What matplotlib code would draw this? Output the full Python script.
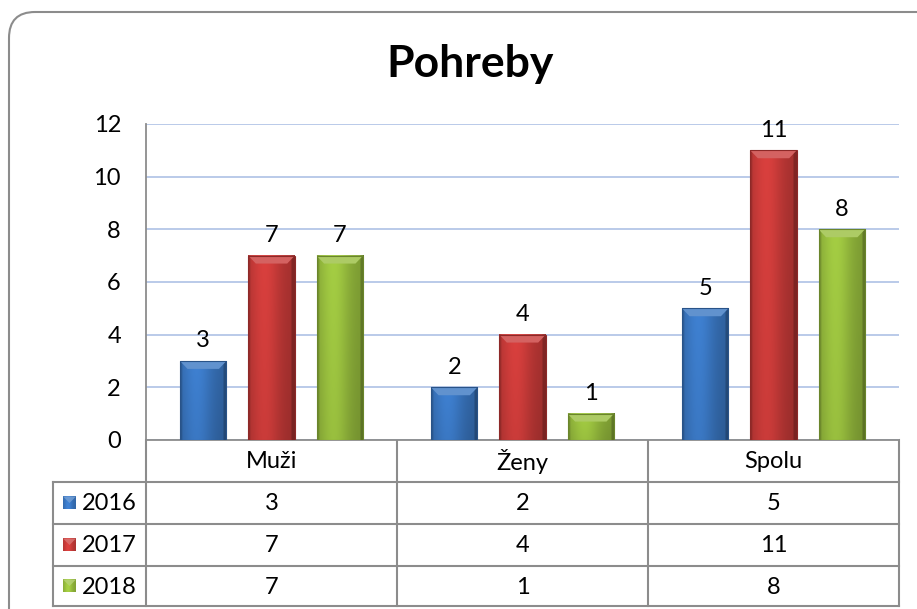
import numpy as np
import matplotlib
matplotlib.use("Agg")
import matplotlib.pyplot as plt
from matplotlib.patches import FancyBboxPatch, Polygon, Rectangle
from matplotlib.colors import to_rgb

# data
categories = ["Muži", "Ženy", "Spolu"]
years = ["2016", "2017", "2018"]
v2016 = [3, 2, 5]
v2017 = [7, 4, 11]
v2018 = [7, 1, 8]
series = [v2016, v2017, v2018]
colors = ["#3a77c2", "#c93b39", "#98be3e"]

y_ticks = [0, 2, 4, 6, 8, 10, 12]

plt.rcParams["font.family"] = ["Lato", "DejaVu Sans"]
FS = 17

W, H = 917, 609
fig = plt.figure(figsize=(W / 100, H / 100), dpi=100)
fig.patch.set_facecolor("white")

# plot area in pixel coords
L, R, T, B = 146, 899, 124, 440
ax = fig.add_axes([L / W, 1 - B / H, (R - L) / W, (B - T) / H])
ax.set_facecolor("white")

# overlay for the table and frame (pixel coords)
ov = fig.add_axes([0, 0, 1, 1], zorder=-1)
ov.set_xlim(0, W)
ov.set_ylim(H, 0)
ov.axis("off")


def shade(c, f):
    r, g, b = to_rgb(c)
    if f >= 1:
        return tuple(min(1, v + (1 - v) * (f - 1)) for v in (r, g, b))
    return tuple(v * f for v in (r, g, b))


def bevel_bar(a, x0, w, h, c):
    # gradient body
    nx, ny = 40, 60
    xs = np.linspace(0, 1, nx)
    prof = 0.80 + 0.26 * np.exp(-((xs - 0.35) / 0.35) ** 2)
    prof[:2] *= 0.85
    prof[-3:] *= 0.78
    ys = np.linspace(1, 0, ny)
    vprof = 0.95 + 0.07 * ys
    base = np.array(to_rgb(c))
    img = np.clip(base[None, None, :] * (prof[None, :, None] * vprof[:, None, None]), 0, 1)
    a.imshow(img, extent=(x0, x0 + w, 0, h), aspect="auto", zorder=3,
             interpolation="bilinear")
    # top chamfer
    dx = 0.03
    dy = 0.3
    top = Polygon([(x0, h), (x0 + w, h), (x0 + w - dx, h - dy), (x0 + dx, h - dy)],
                  closed=True, facecolor=shade(c, 1.2), edgecolor="none", zorder=4)
    a.add_patch(top)
    a.add_patch(Rectangle((x0, 0), w, h, fill=False, edgecolor=shade(c, 0.7),
                          linewidth=0.8, zorder=5))


x = np.arange(len(categories))
bw = 0.185
offsets = [-0.272, 0.0, 0.272]
for vals, off, c in zip(series, offsets, colors):
    for xi, v in zip(x, vals):
        bevel_bar(ax, xi + off - bw / 2, bw, v, c)
        ax.annotate(str(v), (xi + off, v), xytext=(0, 7), textcoords="offset points",
                    ha="center", va="bottom", fontsize=FS, color="black")

ax.set_xlim(-0.5, len(categories) - 0.5)
ax.set_ylim(0, 12)
ax.set_yticks(y_ticks)
ax.set_yticklabels([str(t) for t in y_ticks], fontsize=FS)
ax.tick_params(axis="y", length=0, pad=18)
ax.set_xticks([])
ax.yaxis.grid(True, color="#b4c6e7", linewidth=1.3)
ax.set_axisbelow(True)
for s in ["top", "right"]:
    ax.spines[s].set_visible(False)
for s in ["left", "bottom"]:
    ax.spines[s].set_color("#8c8c8c")
    ax.spines[s].set_linewidth(1.3)

# title
fig.text(470 / W, 1 - 64 / H, "Pohreby", ha="center", va="center",
         fontsize=32, fontweight="bold")

# data table
lc = "#8c8c8c"
lw = 1.5
col_edges = [L + (R - L) * i / len(categories) for i in range(len(categories) + 1)]
row_edges = [B, 482, 524, 566, 606]
leg_left = 53
ov.plot([leg_left, R], [row_edges[1]] * 2, color=lc, lw=lw)
for yy in row_edges[2:]:
    ov.plot([leg_left, R], [yy, yy], color=lc, lw=lw)
for xx in col_edges:
    ov.plot([xx, xx], [B, row_edges[-1]], color=lc, lw=lw)
ov.plot([leg_left, leg_left], [row_edges[1], row_edges[-1]], color=lc, lw=lw)

for i, cat in enumerate(categories):
    cx = 0.5 * (col_edges[i] + col_edges[i + 1])
    ov.text(cx, 0.5 * (row_edges[0] + row_edges[1]) + 1, cat, ha="center", va="center",
            fontsize=FS)
    for j, vals in enumerate(series):
        ov.text(cx, 0.5 * (row_edges[j + 1] + row_edges[j + 2]) + 1, str(vals[i]),
                ha="center", va="center", fontsize=FS)

for j, (yr, c) in enumerate(zip(years, colors)):
    cy = 0.5 * (row_edges[j + 1] + row_edges[j + 2])
    ks = 13
    kx = 63
    nx = 20
    xs = np.linspace(0, 1, nx)
    prof = 0.85 + 0.25 * np.exp(-((xs - 0.4) / 0.35) ** 2)
    img = np.clip(np.array(to_rgb(c))[None, None, :] * prof[None, :, None], 0, 1)
    img = np.repeat(img, nx, axis=0)
    ov.imshow(img, extent=(kx, kx + ks, cy + ks / 2, cy - ks / 2), aspect="auto",
              interpolation="bilinear")
    ov.add_patch(Polygon([(kx, cy - ks / 2), (kx + ks, cy - ks / 2),
                          (kx + ks / 2, cy)], closed=True,
                         facecolor=shade(c, 1.3), edgecolor="none", alpha=0.8))
    ov.text(kx + ks + 6, cy + 1, yr, ha="left", va="center", fontsize=FS)

ov.set_xlim(0, W)
ov.set_ylim(H, 0)

# outer rounded frame
frame = FancyBboxPatch((9, 12), 960, 660, boxstyle="round,pad=0,rounding_size=26",
                       facecolor="none", edgecolor="#8c8c8c", linewidth=1.5,
                       transform=ov.transData, clip_on=True)
ov.add_patch(frame)

fig.savefig("out.png", dpi=100)
